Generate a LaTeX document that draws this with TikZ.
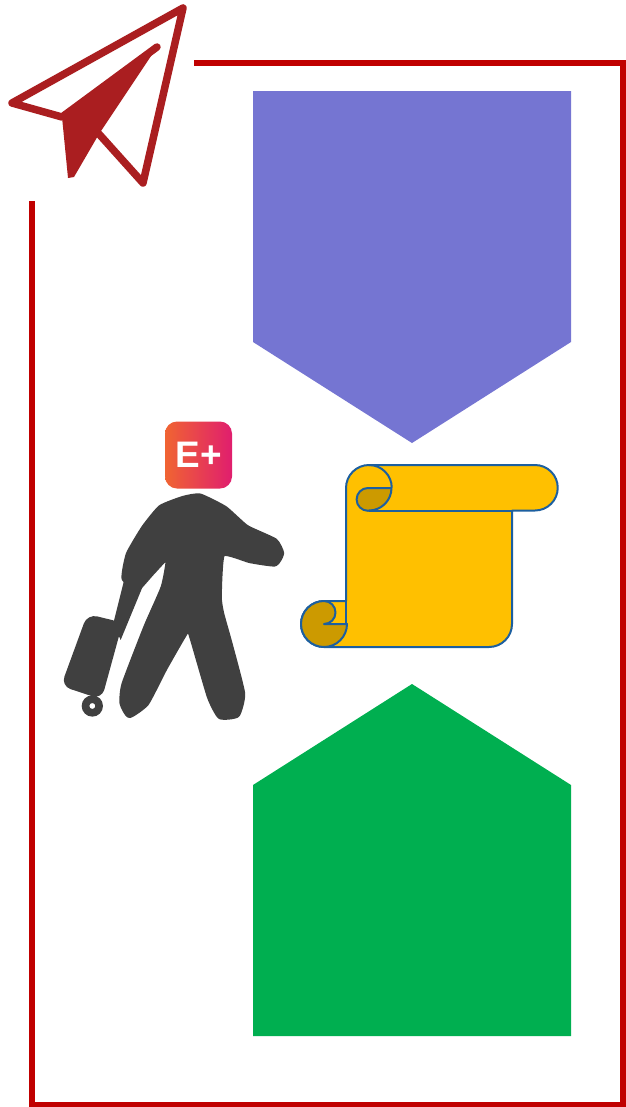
\documentclass[tikz,border=0pt]{standalone}
\usepackage{fontspec}
\setsansfont{Liberation Sans}
\definecolor{FrameRed}{RGB}{192,0,0}
\definecolor{PlaneRed}{RGB}{170,30,32}
\definecolor{ArrowBlue}{RGB}{117,117,210}
\definecolor{HomeGreen}{RGB}{0,175,80}
\definecolor{ScrollGold}{RGB}{255,192,0}
\definecolor{CurlGold}{RGB}{204,154,0}
\definecolor{ScrollEdge}{RGB}{28,95,160}
\definecolor{PersonGrey}{RGB}{64,64,64}
\definecolor{BadgeLeft}{RGB}{240,100,50}
\definecolor{BadgeRight}{RGB}{224,30,110}
\usetikzlibrary{positioning}
\tikzset{
    frameline/.style={FrameRed, line width=.6mm, line join=miter},
    planeline/.style={PlaneRed, line width=.75mm, line join=round, line cap=round},
    scrolledge/.style={ScrollEdge, line width=.2mm, line join=round},
    personfill/.style={PersonGrey, fill=PersonGrey, line width=.5mm, line join=round},
    badge/.style={rounded corners=1.2mm, left color=BadgeLeft, right color=BadgeRight,
        minimum size=6.7mm, inner sep=0pt, text=white, font=\sffamily\bfseries\fontsize{10.5}{12}\selectfont},
}

\begin{document}
\begin{tikzpicture}[x=.1mm, y=-.1mm]
    \useasboundingbox (0,0) rectangle (625,1107);
    % frame
    \draw[frameline] (194,63) -- (623,63) -- (623,1105) -- (32,1105) -- (32,201);
    % paper plane
    \draw[planeline] (157,47) -- (62,117) -- (12,103) -- (183,8) -- (143,183) -- (99,134);
    \fill[PlaneRed] (157,47) -- (62,117) -- (68,178) -- (74,177) -- (99,134) -- cycle;
    % arrows
    \fill[ArrowBlue] (253,91) -- (571,91) -- (571,342) -- (412,443) -- (253,342) -- cycle;
    \fill[HomeGreen] (253,1036) -- (571,1036) -- (571,785) -- (412,684) -- (253,785) -- cycle;
    % scroll
    \draw[scrolledge, fill=ScrollGold] (369,465) -- (535,465) arc[start angle=-90, end angle=90, radius=22.75]
        -- (512,510.5) -- (512,624) arc[start angle=0, end angle=90, radius=23] -- (324,647)
        arc[start angle=90, end angle=270, radius=23] -- (346,601) -- (346,488)
        arc[start angle=180, end angle=270, radius=23] -- cycle;
    \draw[scrolledge] (369,510.5) -- (512,510.5);
    \draw[scrolledge, fill=CurlGold] (391.5,488) -- (368,488) arc[start angle=270, end angle=90, radius=11.4]
        -- (369,510.5) arc[start angle=90, end angle=0, radius=22.5] -- cycle;
    \draw[scrolledge] (369,465) arc[start angle=-90, end angle=0, radius=22.75];
    \draw[scrolledge, fill=CurlGold] (324,601) arc[start angle=270, end angle=0, radius=23]
        -- (324,624) arc[start angle=90, end angle=-90, radius=11.5] -- cycle;
    \draw[scrolledge] (346,601) -- (346,624);
    % traveller
    \begin{scope}[shift={(50,410)}, scale=.3333]
        \draw[personfill] plot[smooth cycle, tension=.3] coordinates {
            (450,258) (525,295) (590,352) (675,392) (695,430) (675,462) (600,452) (518,432)
            (508,560) (515,610) (540,700) (578,850) (562,915) (510,920) (478,860) (425,680)
            (412,660) (345,775) (290,880) (238,917) (216,880) (222,822) (288,650) (340,530)
            (355,440) (305,490) (262,535) (222,505) (235,432) (282,352) (332,292) (400,265)};
        \fill[PersonGrey] (225,500) -- (278,530) -- (212,690) -- (190,640) -- cycle;
        \fill[PersonGrey, rounded corners=1mm] (112,612) -- (218,638) -- (155,868) -- (33,828) -- cycle;
        \fill[PersonGrey, even odd rule] (127,888) circle[radius=32] (127,888) circle[radius=9];
    \end{scope}
    \node[badge] (eplus) at (198.5,455) {E+};
\end{tikzpicture}
\end{document}
